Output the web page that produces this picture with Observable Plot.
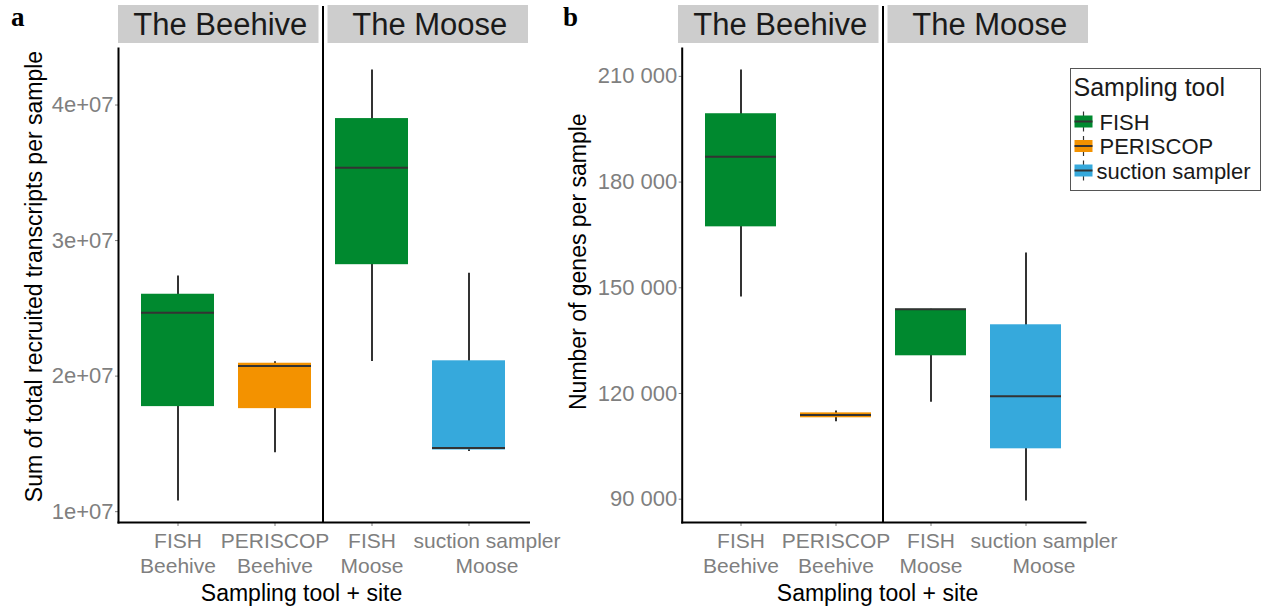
<!DOCTYPE html>
<html><head><meta charset="utf-8">
<script src="https://cdn.jsdelivr.net/npm/d3@7"></script>
<script src="https://cdn.jsdelivr.net/npm/@observablehq/plot@0.6"></script>
<style>
body{margin:0;background:#fff;font-family:"Liberation Sans",Arial,sans-serif;}
#root{position:relative;width:1265px;height:608px;overflow:hidden;background:#fff;}
.panel{position:absolute;top:0;}
</style></head><body><div id="root"></div>
<script>
// ---- shared categories ----
const sites = ["The Beehive", "The Moose"];
const tools = ["FISH", "PERISCOP", "suction sampler"];
const toolColors = ["#00892f", "#f39200", "#36a9dc"];
const groupLabels = ["FISH\nBeehive", "PERISCOP\nBeehive", "FISH\nMoose", "suction sampler\nMoose"];
const groupTools = ["FISH", "PERISCOP", "FISH", "suction sampler"];
const groupSites = ["The Beehive", "The Beehive", "The Moose", "The Moose"];

// ---- panel a: sum of total recruited transcripts per sample ----
const transcriptsLow    = [1.079e7, 1.435e7, 2.107e7, 1.444e7];
const transcriptsQ1     = [1.775e7, 1.760e7, 2.822e7, 1.455e7];
const transcriptsMedian = [2.468e7, 2.075e7, 3.537e7, 1.470e7];
const transcriptsQ3     = [2.604e7, 2.095e7, 3.900e7, 2.113e7];
const transcriptsHigh   = [2.739e7, 2.106e7, 4.258e7, 2.759e7];
const transcriptsTicks = [1e7, 2e7, 3e7, 4e7];
const transcriptsTickLabels = ["1e+07", "2e+07", "3e+07", "4e+07"];

// ---- panel b: number of genes per sample ----
const genesLow    = [147400, 112000, 117500, 89500];
const genesQ1     = [167300, 113100, 130700, 104300];
const genesMedian = [187200, 113900, 143900, 119200];
const genesQ3     = [199400, 114500, 143900, 139500];
const genesHigh   = [211800, 115000, 143900, 159900];
const genesTicks = [90000, 120000, 150000, 180000, 210000];
const genesTickLabels = ["90 000", "120 000", "150 000", "180 000", "210 000"];

const FONT = '"Liberation Sans", Arial, sans-serif';

function makePanel(o) {
  const rows = groupLabels.map((g, i) => ({
    group: g, tool: groupTools[i], site: groupSites[i],
    low: o.low[i], q1: o.q1[i], med: o.med[i], q3: o.q3[i], high: o.high[i]
  }));
  const lo = d3.min(o.low), hi = d3.max(o.high), pad = (hi - lo) * 0.05;
  const lastGroup = groupLabels[groupLabels.length - 1];

  const decorations = (index, scales, values, dims) => {
    const x = scales.x;
    const bw = typeof x.bandwidth === "function" ? x.bandwidth() : (x.bandwidth || 0);
    const mid = (x(groupLabels[1]) + x(groupLabels[2]) + bw) / 2;
    const bottom = dims.height - dims.marginBottom;
    const g = d3.create("svg:g").attr("font-family", FONT).attr("text-anchor", "start");
    const stripW = 200.5, gap = 4.5;
    const strips = [{site: sites[0], x0: mid - gap - stripW}, {site: sites[1], x0: mid + gap}];
    for (const s of strips) {
      g.append("rect").attr("x", s.x0).attr("y", 5).attr("width", stripW).attr("height", 38).attr("fill", "#cdcdcd");
      g.append("text").attr("x", s.x0 + stripW / 2 + 2).attr("y", 35).attr("text-anchor", "middle")
        .attr("font-size", 31).attr("fill", "#1a1a1a").text(s.site);
    }
    g.append("line").attr("x1", mid).attr("x2", mid).attr("y1", 6).attr("y2", bottom)
      .attr("stroke", "#000").attr("stroke-width", 2);
    g.append("text").attr("transform", `translate(${o.yLabelX},${o.yLabelY}) rotate(-90)`)
      .attr("text-anchor", "middle").attr("font-size", 23).attr("fill", "#000").text(o.yLabel);
    g.append("text").attr("x", o.xLabelX).attr("y", 601).attr("text-anchor", "middle")
      .attr("font-size", 23).attr("fill", "#000").text("Sampling tool + site");
    g.append("text").attr("x", o.letterX).attr("y", 26).attr("text-anchor", "start")
      .attr("font-family", '"Liberation Serif", "Times New Roman", serif')
      .attr("font-weight", "bold").attr("font-size", 27).attr("fill", "#000").text(o.letter);
    if (o.legend) {
      const L = o.legend;
      const lg = g.append("g").attr("text-anchor", "start");
      lg.append("rect").attr("x", L.x).attr("y", L.y).attr("width", 190).attr("height", 122)
        .attr("fill", "#fff").attr("stroke", "#555").attr("stroke-width", 1);
      lg.append("text").attr("x", L.x + 3).attr("y", L.y + 27).attr("text-anchor", "start")
        .attr("font-size", 25).attr("fill", "#1a1a1a").text("Sampling tool");
      tools.forEach((t, i) => {
        const cy = L.y + 53 + i * 24.5;
        const kx = L.x + 4;
        lg.append("line").attr("x1", kx + 9).attr("x2", kx + 9).attr("y1", cy - 10).attr("y2", cy + 10)
          .attr("stroke", "#333").attr("stroke-width", 1.2);
        lg.append("rect").attr("x", kx).attr("y", cy - 6).attr("width", 18).attr("height", 12).attr("fill", scales.color(t));
        lg.append("line").attr("x1", kx).attr("x2", kx + 18).attr("y1", cy).attr("y2", cy)
          .attr("stroke", "#333").attr("stroke-width", 2);
        lg.append("text").attr("x", t === "suction sampler" ? kx + 22 : kx + 25).attr("y", cy + 8)
          .attr("text-anchor", "start").attr("font-size", 22).attr("fill", "#1a1a1a").text(t);
      });
    }
    return g.node();
  };

  const xTickText = {fontSize: 21, lineHeight: 1.18, color: "#7f7f7f", label: null};
  const chart = Plot.plot({
    width: o.width, height: 608,
    marginTop: 48, marginBottom: 86, marginLeft: o.marginLeft, marginRight: o.marginRight,
    style: {fontFamily: FONT, background: "transparent", overflow: "visible"},
    x: {type: "band", domain: groupLabels, paddingInner: 0.25, paddingOuter: 0.24, label: null},
    y: {domain: [lo - pad, hi + pad], label: null},
    color: {domain: tools, range: toolColors},
    marks: [
      Plot.ruleX(rows, {x: "group", y1: "low", y2: "high", stroke: "#333", strokeWidth: 2}),
      Plot.barY(rows, {x: "group", y1: "q1", y2: "q3", fill: "tool"}),
      Plot.tickY(rows, {x: "group", y: "med", stroke: "#333", strokeWidth: 2}),
      Plot.axisY({ticks: o.ticks, tickFormat: d => o.tickLabels[o.ticks.indexOf(d)], tickSize: 3, tickPadding: 2,
        fontSize: 22, color: "#7f7f7f", label: null}),
      Plot.axisX({...xTickText, tickSize: 4, tickPadding: 4, tickFormat: d => d === lastGroup ? "" : d}),
      Plot.axisX([lastGroup], {...xTickText, tickSize: 0, tickPadding: 8, dx: 18}),
      Plot.frame({anchor: "left", stroke: "#000", strokeWidth: 2}),
      Plot.frame({anchor: "bottom", stroke: "#000", strokeWidth: 2}),
      decorations
    ]
  });
  chart.classList.add("panel");
  chart.style.left = o.left + "px";
  return chart;
}

const root = document.getElementById("root");
root.appendChild(makePanel({
  left: 0, width: 560, marginLeft: 118, marginRight: 31.5,
  low: transcriptsLow, q1: transcriptsQ1, med: transcriptsMedian, q3: transcriptsQ3, high: transcriptsHigh,
  ticks: transcriptsTicks, tickLabels: transcriptsTickLabels,
  yLabel: "Sum of total recruited transcripts per sample", yLabelX: 41.5, yLabelY: 276.5,
  xLabelX: 301.5, letter: "a", letterX: 11
}));
root.appendChild(makePanel({
  left: 560, width: 705, marginLeft: 121.7, marginRight: 180,
  low: genesLow, q1: genesQ1, med: genesMedian, q3: genesQ3, high: genesHigh,
  ticks: genesTicks, tickLabels: genesTickLabels,
  yLabel: "Number of genes per sample", yLabelX: 26, yLabelY: 261.7,
  xLabelX: 317.5, letter: "b", letterX: 3,
  legend: {x: 510.5, y: 68.5}
}));
</script></body></html>
